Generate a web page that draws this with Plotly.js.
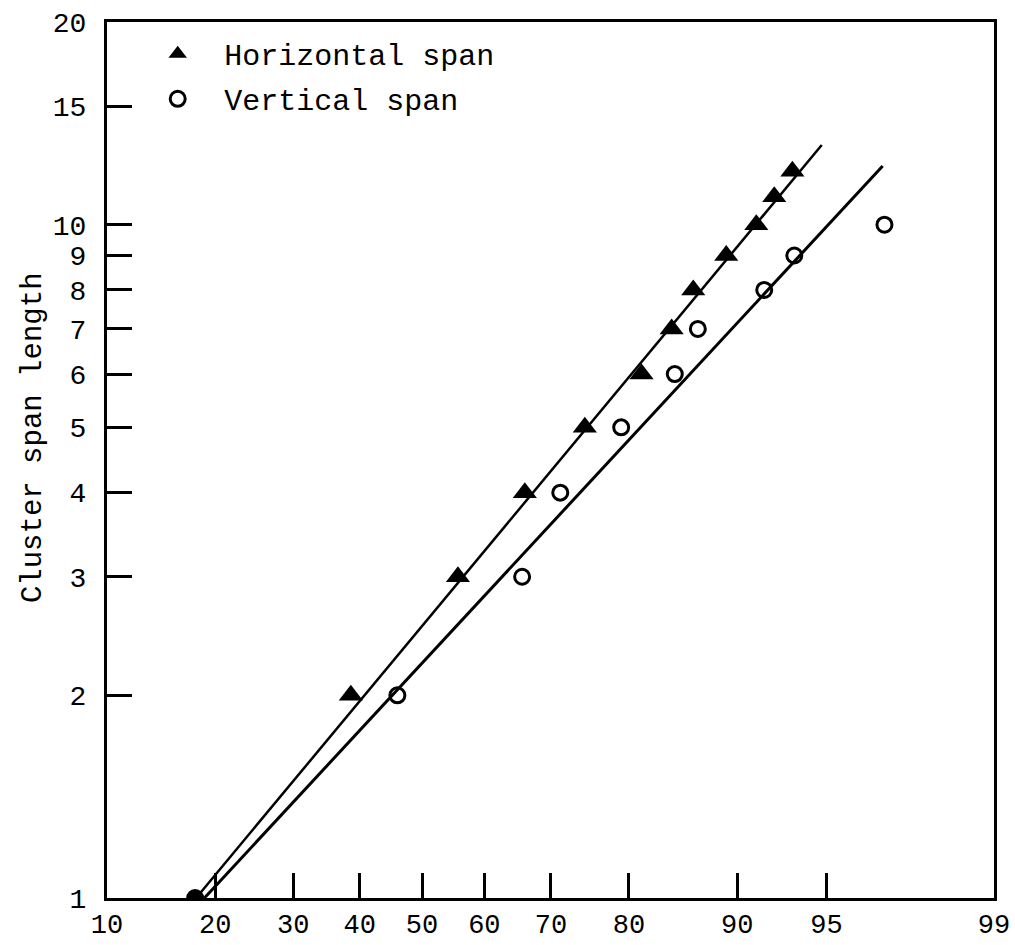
<!DOCTYPE html>
<html>
<head>
<meta charset="utf-8">
<script src="https://cdn.plot.ly/plotly-3.0.1.min.js"></script>
<style>
  html, body { margin: 0; padding: 0; background: #ffffff; }
  #chart { width: 1015px; height: 945px; }
</style>
</head>
<body>
<div id="chart"></div>
<script>
// Cumulative percentage (probability scale) vs. cluster span length (log scale)

// Horizontal span observations
const horizPct = [38.6, 55.8, 66.2, 74.6, 81.4, 84.5, 86.5, 89.2, 91.3, 92.4, 93.4];
const horizLen = [2, 3, 4, 5, 6, 7, 8, 9, 10, 11, 12];

// Vertical span observations
const vertPct = [46.0, 65.8, 71.3, 79.1, 84.8, 86.9, 91.8, 93.5, 97.0];
const vertLen = [2, 3, 4, 5, 6, 7, 8, 9, 10];

// Shared starting point (span length 1)
const startPct = [17.8];
const startLen = [1];

// Fitted straight lines (end points)
const horizFitPct = [17.9, 94.8];
const horizFitLen = [1, 13.13];
const vertFitPct = [18.8, 96.95];
const vertFitLen = [1, 12.22];

// Axis ticks
const xTickPct = [10, 20, 30, 40, 50, 60, 70, 80, 90, 95, 99];
const xTickText = ['10', '20', '30', '40', '50', '60', '70', '80', '90', '95', '99'];
const yTickVals = [1, 2, 3, 4, 5, 6, 7, 8, 9, 10, 15, 20];
const yTickText = ['1', '2', '3', '4', '5', '6', '7', '8', '9', '10', '15', '20'];

// Inverse of the standard normal CDF (Acklam's approximation)
function probit(p) {
  const a = [-3.969683028665376e+01, 2.209460984245205e+02, -2.759285104469687e+02,
             1.383577518672690e+02, -3.066479806614716e+01, 2.506628277459239e+00];
  const b = [-5.447609879822406e+01, 1.615858368580409e+02, -1.556989798598866e+02,
             6.680131188771972e+01, -1.328068155288572e+01];
  const c = [-7.784894002430293e-03, -3.223964580411365e-01, -2.400758277161838e+00,
             -2.549671509661250e+00, 4.374664141464968e+00, 2.938163982698783e+00];
  const d = [7.784695709041462e-03, 3.224671290700398e-01, 2.445134137142996e+00,
             3.754408661907416e+00];
  const pl = 0.02425, ph = 1 - pl;
  let q, r;
  if (p < pl) {
    q = Math.sqrt(-2 * Math.log(p));
    return (((((c[0]*q + c[1])*q + c[2])*q + c[3])*q + c[4])*q + c[5]) /
           ((((d[0]*q + d[1])*q + d[2])*q + d[3])*q + 1);
  }
  if (p > ph) {
    q = Math.sqrt(-2 * Math.log(1 - p));
    return -(((((c[0]*q + c[1])*q + c[2])*q + c[3])*q + c[4])*q + c[5]) /
            ((((d[0]*q + d[1])*q + d[2])*q + d[3])*q + 1);
  }
  q = p - 0.5; r = q * q;
  return (((((a[0]*r + a[1])*r + a[2])*r + a[3])*r + a[4])*r + a[5]) * q /
         (((((b[0]*r + b[1])*r + b[2])*r + b[3])*r + b[4])*r + 1);
}
const toZ = arr => arr.map(v => probit(v / 100));

const FONT = 'Liberation Mono, DejaVu Sans Mono, monospace';

const traces = [
  {
    x: toZ(horizFitPct), y: horizFitLen, mode: 'lines',
    line: { color: '#000', width: 2.5 }, showlegend: false, hoverinfo: 'skip'
  },
  {
    x: toZ(vertFitPct), y: vertFitLen, mode: 'lines',
    line: { color: '#000', width: 3 }, showlegend: false, hoverinfo: 'skip'
  },
  {
    name: 'Horizontal span', legendgroup: 'h',
    x: toZ(horizPct), y: horizLen, customdata: horizPct, mode: 'markers',
    marker: { symbol: 'triangle-up', size: 21, color: '#000' },
    hovertemplate: '%{customdata}%%, %{y}<extra></extra>'
  },
  {
    name: 'Vertical span', legendgroup: 'v',
    x: toZ(vertPct), y: vertLen, customdata: vertPct, mode: 'markers',
    marker: { symbol: 'circle-open', size: 15, color: '#000', line: { width: 3, color: '#000' } },
    hovertemplate: '%{customdata}%%, %{y}<extra></extra>'
  },
  {
    x: toZ(startPct), y: startLen, customdata: startPct, mode: 'markers',
    marker: { symbol: 'circle', size: 18, color: '#000' }, showlegend: false,
    hovertemplate: '%{customdata}%%, %{y}<extra></extra>'
  }
];

const layout = {
  width: 1015, height: 945,
  margin: { l: 107, r: 21, t: 22, b: 47 },
  paper_bgcolor: '#fff', plot_bgcolor: '#fff',
  font: { family: FONT, color: '#000', size: 28 },
  showlegend: true,
  legend: {
    x: 0.0273, y: 0.9934, xanchor: 'left', yanchor: 'top',
    bgcolor: 'rgba(0,0,0,0)', borderwidth: 0,
    font: { family: FONT, size: 30, color: '#000' },
    itemwidth: 83, traceorder: 'grouped', tracegroupgap: 3
  },
  xaxis: {
    type: 'linear',
    range: [probit(0.10), probit(0.99)],
    tickmode: 'array', tickvals: toZ(xTickPct), ticktext: xTickText,
    ticks: 'inside', ticklen: 25, tickwidth: 3, tickcolor: '#000',
    ticklabelstandoff: 0,
    showline: true, linewidth: 3, linecolor: '#000', mirror: true,
    showgrid: false, zeroline: false,
    tickfont: { family: FONT, size: 27, color: '#000' }
  },
  yaxis: {
    type: 'log',
    range: [0, Math.log10(20)],
    tickmode: 'array', tickvals: yTickVals, ticktext: yTickText,
    ticks: 'inside', ticklen: 25, tickwidth: 3, tickcolor: '#000',
    ticklabelstandoff: 12,
    showline: true, linewidth: 3, linecolor: '#000', mirror: true,
    showgrid: false, zeroline: false,
    tickfont: { family: FONT, size: 28, color: '#000' }
  },
  annotations: [
    {
      text: 'Cluster span length', textangle: -90,
      xref: 'paper', yref: 'paper', x: -0.0834, y: 0.525,
      xanchor: 'center', yanchor: 'middle', showarrow: false,
      font: { family: FONT, size: 29, color: '#000' }
    }
  ]
};

Plotly.newPlot('chart', traces, layout, { displayModeBar: false });
</script>
</body>
</html>
